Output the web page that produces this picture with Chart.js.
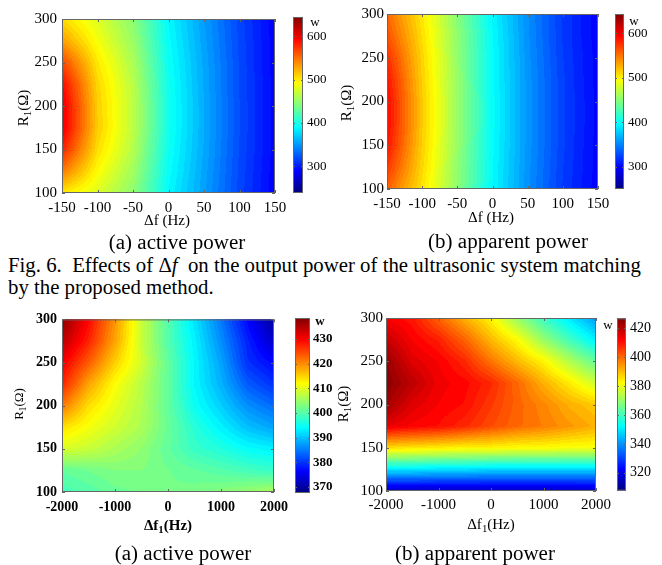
<!DOCTYPE html>
<html>
<head>
<meta charset="utf-8">
<script src="https://cdn.jsdelivr.net/npm/chart.js@4.4.0/dist/chart.umd.min.js"></script>
<style>
  body { margin: 0; background: #fff; }
  #fig { position: relative; width: 662px; height: 565px; overflow: hidden;
         font-family: 'Liberation Serif', 'Times New Roman', serif; color: #000; }
  canvas { position: absolute; }
  .t { position: absolute; white-space: nowrap; line-height: 1; transform: translate(-50%, -50%); }
  .ty { transform: translate(-50%, -50%) rotate(-90deg); }
  .b { font-weight: bold; }
  sub { font-size: 0.72em; vertical-align: -0.35em; line-height: 0; }
  .cap { font-size: 20px; transform: translate(-50%, -50%) scaleX(1.05); }
  .fig { position: absolute; left: 8px; font-size: 20px; white-space: nowrap; line-height: 1;
         transform: scaleX(1.04); transform-origin: left center; }
</style>
</head>
<body>
<div id="fig">
  <canvas id="mainA"></canvas><canvas id="barA"></canvas>
  <canvas id="mainB"></canvas><canvas id="barB"></canvas>
  <canvas id="mainC"></canvas><canvas id="barC"></canvas>
  <canvas id="mainD"></canvas><canvas id="barD"></canvas>

  <div class="t ty" style="left:23px;top:108px;font-size:15px">R<sub>1</sub>(Ω)</div>
  <div class="t" style="left:167px;top:220px;font-size:15px">Δf (Hz)</div>
  <div class="t" style="left:315px;top:21px;font-size:13px">w</div>
  <div class="t cap" style="left:177px;top:242px">(a) active power</div>

  <div class="t ty" style="left:346px;top:103px;font-size:15px">R<sub>1</sub>(Ω)</div>
  <div class="t" style="left:491px;top:217px;font-size:15px">Δf (Hz)</div>
  <div class="t" style="left:634px;top:20px;font-size:13px">w</div>
  <div class="t cap" style="left:508px;top:241px">(b) apparent power</div>

  <div class="fig" style="top:255px">Fig. 6.&nbsp; Effects of Δ<i>f</i>&nbsp; on the output power of the ultrasonic system matching</div>
  <div class="fig" style="top:277px">by the proposed method.</div>

  <div class="t ty" style="left:18px;top:404px;font-size:13px">R<sub>1</sub>(Ω)</div>
  <div class="t b" style="left:168px;top:525px;font-size:15px">Δf<sub>1</sub>(Hz)</div>
  <div class="t b" style="left:320px;top:320px;font-size:13px">w</div>
  <div class="t cap" style="left:183px;top:553px">(a) active power</div>

  <div class="t ty" style="left:343px;top:404px;font-size:15px">R<sub>1</sub>(Ω)</div>
  <div class="t" style="left:491px;top:524px;font-size:15px">Δf<sub>1</sub>(Hz)</div>
  <div class="t" style="left:608px;top:324px;font-size:13px">w</div>
  <div class="t cap" style="left:475px;top:553px">(b) apparent power</div>
</div>
<script>
// ---- values ----
const dfTop = [-150, -100, -50, 0, 50, 100, 150];                          // Δf (Hz)
const df1Bottom = [-2000, -1500, -1000, -500, 0, 500, 1000, 1500, 2000];   // Δf1 (Hz)
const r1Values = [100, 125, 150, 175, 200, 225, 250, 275, 300];            // R1 (Ω)

const dfTicks = [-150, -100, -50, 0, 50, 100, 150];
const df1Ticks = [-2000, -1000, 0, 1000, 2000];
const r1Ticks = [100, 150, 200, 250, 300];

// power (W): one row per R1 (100 -> 300), one column per frequency offset
const activeTop = [
  [500, 478, 447, 390, 354, 318, 290],
  [545, 492, 455, 394, 356, 319, 291],
  [580, 505, 462, 397, 358, 320, 292],
  [600, 512, 466, 399, 359, 321, 292],
  [600, 511, 466, 399, 359, 321, 292],
  [590, 508, 464, 398, 358, 320, 292],
  [565, 500, 459, 396, 357, 320, 291],
  [530, 488, 452, 393, 355, 319, 291],
  [505, 478, 446, 390, 353, 318, 290]
];
const apparentTop = [
  [555, 505, 451, 397, 356, 323, 301],
  [572, 510, 453, 398, 357, 324, 302],
  [585, 513, 455, 399, 358, 325, 302],
  [590, 515, 456, 400, 358, 325, 303],
  [590, 515, 456, 400, 358, 325, 303],
  [585, 513, 455, 399, 358, 325, 302],
  [575, 511, 454, 399, 357, 324, 302],
  [562, 507, 452, 398, 356, 323, 301],
  [552, 503, 450, 396, 355, 323, 301]
];
const activeBottom = [
  [399, 400, 401.5, 402, 402, 402.5, 403.5, 404.5, 406],
  [401, 402, 403, 403, 402, 401, 400, 399, 398],
  [409, 408, 406, 404, 401, 398, 396.5, 394.5, 393.5],
  [414, 411, 408.5, 406, 401.5, 397, 393.5, 390, 388],
  [421, 414, 410, 406.5, 401, 395, 391, 386.5, 384],
  [427, 418, 411.5, 407, 401, 394, 389, 383, 380],
  [430, 423, 415, 408.5, 401, 394, 388, 380, 377],
  [434, 427, 418, 408, 400, 393.5, 386.5, 379, 373],
  [437, 429, 419, 408, 400, 392.5, 385, 377, 370]
];
const apparentBottom = [
  [315, 315, 315, 315, 315, 315, 315, 315, 316],
  [350, 350, 349, 349, 348, 348, 348, 348, 348],
  [386, 385, 384, 383, 383, 382, 382, 381, 381],
  [414, 411.5, 410, 407, 403, 399.5, 397, 394, 391],
  [422, 415, 412, 410, 405, 400, 396, 391, 388],
  [425, 419, 413, 411, 407, 399.5, 391, 384, 376],
  [423.5, 415, 412, 407, 398, 390, 383, 373, 364],
  [418, 412, 408, 400, 390, 382, 370, 360, 351],
  [412, 409, 400, 391, 383, 370, 359, 350, 341]
];

// colour bar limits and labels
const cbRangeA = [238, 645], cbTicksA = [300, 400, 500, 600];
const cbRangeB = [250, 643], cbTicksB = [300, 400, 500, 600];
const cbRangeC = [367.5, 438.5], cbTicksC = [370, 380, 390, 400, 410, 420, 430];
const cbRangeD = [307.6, 427], cbTicksD = [320, 340, 360, 380, 400, 420];

// ---- drawing ----
const FONT = "'Liberation Serif', 'Times New Roman', serif";

function jet(t) {
  t = Math.min(1, Math.max(0, t));
  const c = v => Math.round(255 * Math.min(1, Math.max(0, v)));
  return [c(Math.min(4 * t - 1.5, -4 * t + 4.5)),
          c(Math.min(4 * t - 0.5, -4 * t + 3.5)),
          c(Math.min(4 * t + 0.5, -4 * t + 2.5))];
}

// position of v inside a regular grid, as fractional index
function gridPos(arr, v) {
  const f = (v - arr[0]) / (arr[1] - arr[0]);
  return Math.min(arr.length - 1, Math.max(0, f));
}

// interpolated shading of the grid, pixel by pixel, like MATLAB "shading interp"
const heatmapPlugin = {
  id: 'heatmap',
  beforeDatasetsDraw(chart) {
    const ds = chart.data.datasets[0];
    const xs = ds.xs, ys = ds.ys, grid = ds.grid, range = ds.range;
    const sx = chart.scales.x, sy = chart.scales.y;
    const a = chart.chartArea, ctx = chart.ctx;
    const w = Math.round(a.right - a.left), h = Math.round(a.bottom - a.top);
    const off = document.createElement('canvas');
    off.width = w;
    off.height = h;
    const octx = off.getContext('2d');
    const img = octx.createImageData(w, h);
    for (let py = 0; py < h; py++) {
      const fy = gridPos(ys, sy.getValueForPixel(a.top + py + 0.5));
      const i0 = Math.min(ys.length - 2, Math.floor(fy)), ty = fy - i0;
      for (let px = 0; px < w; px++) {
        const fx = gridPos(xs, sx.getValueForPixel(a.left + px + 0.5));
        const j0 = Math.min(xs.length - 2, Math.floor(fx)), tx = fx - j0;
        const v = (grid[i0][j0] * (1 - tx) + grid[i0][j0 + 1] * tx) * (1 - ty) +
                  (grid[i0 + 1][j0] * (1 - tx) + grid[i0 + 1][j0 + 1] * tx) * ty;
        let t = (v - range[0]) / (range[1] - range[0]);
        t = Math.min(63, Math.max(0, Math.floor(t * 64))) / 63;
        const col = jet(t);
        const k = (py * w + px) * 4;
        img.data[k] = col[0]; img.data[k + 1] = col[1]; img.data[k + 2] = col[2]; img.data[k + 3] = 255;
      }
    }
    octx.putImageData(img, 0, 0);
    ctx.drawImage(off, a.left, a.top);
  },
  afterDatasetsDraw(chart) {
    const a = chart.chartArea, ctx = chart.ctx;
    ctx.save();
    ctx.strokeStyle = '#666';
    ctx.lineWidth = 1;
    ctx.strokeRect(a.left + 0.5, a.top + 0.5, a.right - a.left - 1, a.bottom - a.top - 1);
    ctx.beginPath();
    chart.scales.x.ticks.forEach(t => {
      const x = Math.round(chart.scales.x.getPixelForValue(t.value)) + 0.5;
      ctx.moveTo(x, a.bottom); ctx.lineTo(x, a.bottom - 3);
      ctx.moveTo(x, a.top); ctx.lineTo(x, a.top + 3);
    });
    chart.scales.y.ticks.forEach(t => {
      const y = Math.round(chart.scales.y.getPixelForValue(t.value)) + 0.5;
      ctx.moveTo(a.left, y); ctx.lineTo(a.left + 3, y);
      ctx.moveTo(a.right, y); ctx.lineTo(a.right - 3, y);
    });
    ctx.stroke();
    ctx.restore();
  }
};

const colorbarPlugin = {
  id: 'colorbar',
  beforeDatasetsDraw(chart) {
    const a = chart.chartArea, ctx = chart.ctx;
    const g = ctx.createLinearGradient(0, a.bottom, 0, a.top);
    for (let i = 0; i <= 64; i++) {
      const c = jet(i / 64);
      g.addColorStop(i / 64, `rgb(${c[0]},${c[1]},${c[2]})`);
    }
    ctx.save();
    ctx.fillStyle = g;
    ctx.fillRect(a.left, a.top, a.right - a.left, a.bottom - a.top);
    ctx.strokeStyle = '#666';
    ctx.lineWidth = 1;
    ctx.strokeRect(a.left + 0.5, a.top + 0.5, a.right - a.left - 1, a.bottom - a.top - 1);
    ctx.beginPath();
    chart.scales.y.ticks.forEach(t => {
      const y = Math.round(chart.scales.y.getPixelForValue(t.value)) + 0.5;
      ctx.moveTo(a.left, y); ctx.lineTo(a.left + 2, y);
      ctx.moveTo(a.right, y); ctx.lineTo(a.right - 2, y);
    });
    ctx.stroke();
    ctx.restore();
  }
};

function place(id, left, top, width, height) {
  const cv = document.getElementById(id);
  cv.width = width;
  cv.height = height;
  cv.style.left = left + 'px';
  cv.style.top = top + 'px';
  return cv;
}

const plain = v => String(v);

function heatChart(id, box, xs, ys, grid, range, xTicks, yTicks, style) {
  const yW = 55, xH = 40, padTop = 12, padRight = 24;
  const cv = place(id, box.left - yW, box.top - padTop, yW + box.width + padRight, padTop + box.height + xH);
  const points = [];
  grid.forEach((row, i) => row.forEach((v, j) => points.push({ x: xs[j], y: ys[i], v: v })));
  const tickFont = { family: FONT, size: style.size, weight: style.weight };
  return new Chart(cv, {
    type: 'scatter',
    data: { datasets: [{ data: points, pointRadius: 0, xs: xs, ys: ys, grid: grid, range: range }] },
    options: {
      responsive: false, animation: false, devicePixelRatio: 1,
      layout: { padding: { top: padTop, right: padRight, left: 0, bottom: 0 } },
      plugins: { legend: { display: false }, tooltip: { enabled: false } },
      scales: {
        x: {
          type: 'linear', min: xTicks[0], max: xTicks[xTicks.length - 1],
          afterBuildTicks: s => { s.ticks = xTicks.map(v => ({ value: v })); },
          afterFit: s => { s.height = xH; },
          grid: { display: false, drawTicks: false }, border: { display: false },
          ticks: { font: tickFont, color: '#000', padding: style.xPad, maxRotation: 0, autoSkip: false, callback: plain }
        },
        y: {
          type: 'linear', min: yTicks[0], max: yTicks[yTicks.length - 1],
          afterBuildTicks: s => { s.ticks = yTicks.map(v => ({ value: v })); },
          afterFit: s => { s.width = yW; },
          grid: { display: false, drawTicks: false }, border: { display: false },
          ticks: { font: tickFont, color: '#000', padding: style.yPad, autoSkip: false, callback: plain }
        }
      }
    },
    plugins: [heatmapPlugin]
  });
}

function colorbarChart(id, box, range, ticks, style) {
  const lblW = 42, pad = 12;
  const cv = place(id, box.left, box.top - pad, box.width + lblW, box.height + 2 * pad);
  return new Chart(cv, {
    type: 'scatter',
    data: { datasets: [] },
    options: {
      responsive: false, animation: false, devicePixelRatio: 1,
      layout: { padding: { top: pad, bottom: pad, left: 0, right: 0 } },
      plugins: { legend: { display: false }, tooltip: { enabled: false } },
      scales: {
        x: { type: 'linear', display: false, min: 0, max: 1 },
        y: {
          type: 'linear', position: 'right', min: range[0], max: range[1],
          afterBuildTicks: s => { s.ticks = ticks.map(v => ({ value: v })); },
          afterFit: s => { s.width = lblW; },
          grid: { display: false, drawTicks: false }, border: { display: false },
          ticks: { font: { family: FONT, size: style.size, weight: style.weight }, color: '#000', padding: style.pad, callback: plain }
        }
      }
    },
    plugins: [colorbarPlugin]
  });
}

heatChart('mainA', { left: 62, top: 17, width: 213, height: 176 }, dfTop, r1Values, activeTop, cbRangeA,
  dfTicks, r1Ticks, { size: 15, weight: 'normal', xPad: 6, yPad: 5 });
colorbarChart('barA', { left: 293, top: 17, width: 10, height: 176 }, cbRangeA, cbTicksA,
  { size: 13, weight: 'normal', pad: 4 });

heatChart('mainB', { left: 387, top: 14, width: 211, height: 175 }, dfTop, r1Values, apparentTop, cbRangeB,
  dfTicks, r1Ticks, { size: 15, weight: 'normal', xPad: 6, yPad: 3 });
colorbarChart('barB', { left: 615, top: 14, width: 9, height: 175 }, cbRangeB, cbTicksB,
  { size: 13, weight: 'normal', pad: 4 });

heatChart('mainC', { left: 62, top: 318, width: 212, height: 174 }, df1Bottom, r1Values, activeBottom, cbRangeC,
  df1Ticks, r1Ticks, { size: 14, weight: 'bold', xPad: 7, yPad: 5 });
colorbarChart('barC', { left: 295, top: 318, width: 15, height: 175 }, cbRangeC, cbTicksC,
  { size: 13, weight: 'bold', pad: 3 });

heatChart('mainD', { left: 386, top: 318, width: 210, height: 173 }, df1Bottom, r1Values, apparentBottom, cbRangeD,
  df1Ticks, r1Ticks, { size: 15, weight: 'normal', xPad: 5, yPad: 3 });
colorbarChart('barD', { left: 617, top: 318, width: 9, height: 173 }, cbRangeD, cbTicksD,
  { size: 14, weight: 'normal', pad: 4 });
</script>
</body>
</html>
